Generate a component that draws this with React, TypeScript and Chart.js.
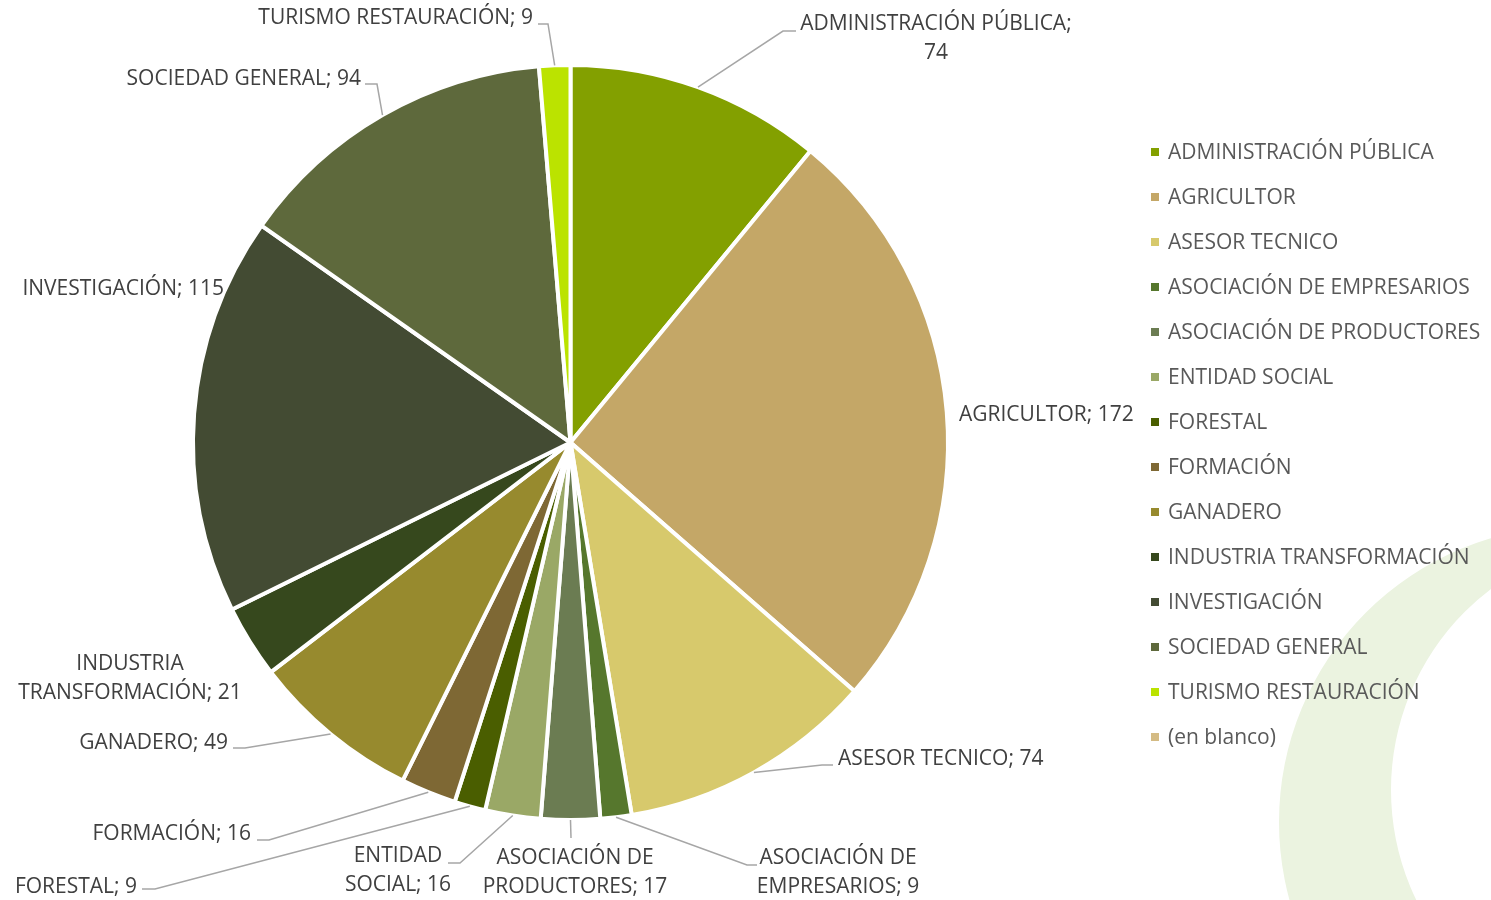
import React, { useEffect, useRef } from "react";
import { Chart, registerables } from "chart.js";

Chart.register(...registerables);

const categories = [
  "ADMINISTRACIÓN PÚBLICA",
  "AGRICULTOR",
  "ASESOR TECNICO",
  "ASOCIACIÓN DE EMPRESARIOS",
  "ASOCIACIÓN DE PRODUCTORES",
  "ENTIDAD SOCIAL",
  "FORESTAL",
  "FORMACIÓN",
  "GANADERO",
  "INDUSTRIA TRANSFORMACIÓN",
  "INVESTIGACIÓN",
  "SOCIEDAD GENERAL",
  "TURISMO RESTAURACIÓN",
  "(en blanco)",
];

const values = [74, 172, 74, 9, 17, 16, 9, 16, 49, 21, 115, 94, 9, 0];

const colors = [
  "#83A000",
  "#C4A767",
  "#D7C96C",
  "#56772D",
  "#6B7C52",
  "#9AA866",
  "#4A5E00",
  "#7E6834",
  "#978A2E",
  "#36481D",
  "#434B33",
  "#5E693C",
  "#BBE300",
  "#D4BB84",
];

// Label layout: text position (x, lines y), alignment, first-line word count (0 = single line),
// optional leader elbow point and horizontal end x.
type LabelLayout = {
  x: number;
  ys: number[];
  align: CanvasTextAlign;
  split: number;
  elbow?: [number, number];
  endX?: number;
};

const labelLayout: LabelLayout[] = [
  { x: 936, ys: [24, 53], align: "center", split: 2, elbow: [783, 31], endX: 796 },
  { x: 959, ys: [415], align: "left", split: 0 },
  { x: 838, ys: [759], align: "left", split: 0, elbow: [822, 765], endX: 833 },
  { x: 838, ys: [858, 887], align: "center", split: 2, elbow: [747, 865], endX: 757 },
  { x: 575, ys: [858, 887], align: "center", split: 2, elbow: [571, 838], endX: 571 },
  { x: 398, ys: [856, 885], align: "center", split: 1, elbow: [460, 863], endX: 448 },
  { x: 137, ys: [887], align: "right", split: 0, elbow: [155, 889], endX: 142 },
  { x: 251, ys: [834], align: "right", split: 0, elbow: [269, 840], endX: 257 },
  { x: 228, ys: [743], align: "right", split: 0, elbow: [245, 748], endX: 233 },
  { x: 130, ys: [664, 693], align: "center", split: 1 },
  { x: 224, ys: [289], align: "right", split: 0 },
  { x: 361, ys: [79], align: "right", split: 0, elbow: [377, 84], endX: 365 },
  { x: 533, ys: [18], align: "right", split: 0, elbow: [548, 24], endX: 538 },
];

const FONT = "21px 'Open Sans'";

const bgPlugin = {
  id: "bgRing",
  beforeDraw(chart: any) {
    const ctx = chart.ctx;
    ctx.save();
    ctx.fillStyle = "#ffffff";
    ctx.fillRect(0, 0, chart.width, chart.height);
    ctx.beginPath();
    ctx.arc(1575, 822, 296, 0, Math.PI * 2);
    ctx.arc(1643, 790, 252, 0, Math.PI * 2, true);
    ctx.fillStyle = "#EBF3E0";
    ctx.fill("evenodd");
    ctx.restore();
  },
};

const labelPlugin = {
  id: "leaderLabels",
  afterDatasetsDraw(chart: any) {
    const ctx = chart.ctx;
    const meta = chart.getDatasetMeta(0);
    ctx.save();
    ctx.font = FONT;
    ctx.textBaseline = "middle";
    meta.data.forEach((arc: any, i: number) => {
      const lay = labelLayout[i];
      if (!lay || !values[i]) return;
      const mid = (arc.startAngle + arc.endAngle) / 2;
      const sx = arc.x + Math.cos(mid) * arc.outerRadius;
      const sy = arc.y + Math.sin(mid) * arc.outerRadius;
      if (lay.elbow) {
        ctx.beginPath();
        ctx.strokeStyle = "#A6A6A6";
        ctx.lineWidth = 1.5;
        ctx.moveTo(sx, sy);
        ctx.lineTo(lay.elbow[0], lay.elbow[1]);
        ctx.lineTo(lay.endX, lay.elbow[1]);
        ctx.stroke();
      }
      const full = `${categories[i]}; ${values[i]}`;
      let lines = [full];
      if (lay.split > 0) {
        const words = full.split(" ");
        lines = [words.slice(0, lay.split).join(" "), words.slice(lay.split).join(" ")];
      }
      ctx.fillStyle = "#404040";
      ctx.textAlign = lay.align;
      lines.forEach((t, k) => ctx.fillText(t, lay.x, lay.ys[k]));
    });
    ctx.restore();
  },
};

const legendPlugin = {
  id: "customLegend",
  afterDraw(chart: any) {
    const ctx = chart.ctx;
    ctx.save();
    ctx.font = FONT;
    ctx.textBaseline = "middle";
    ctx.textAlign = "left";
    categories.forEach((c, i) => {
      const y = 152 + i * 45;
      ctx.fillStyle = colors[i];
      ctx.fillRect(1151, y - 4, 8, 8);
      ctx.fillStyle = "#595959";
      ctx.fillText(c, 1168, y + 1);
    });
    ctx.restore();
  },
};

export default function App() {
  const ref = useRef<HTMLCanvasElement>(null);
  useEffect(() => {
    if (!ref.current) return;
    const chart = new Chart(ref.current, {
      type: "pie",
      data: {
        labels: categories,
        datasets: [
          {
            data: values,
            backgroundColor: colors,
            borderColor: "#ffffff",
            borderWidth: 4,
            hoverOffset: 0,
            offset: 0,
          },
        ],
      },
      options: {
        responsive: false,
        animation: false,
        devicePixelRatio: 1,
        layout: { padding: { left: 191, right: 541, top: 63, bottom: 78 } },
        plugins: {
          legend: { display: false },
          tooltip: { enabled: false },
          title: { display: false },
        },
      },
      plugins: [bgPlugin, labelPlugin, legendPlugin],
    });
    return () => chart.destroy();
  }, []);
  return (
    <div style={{ position: "absolute", left: 0, top: 0, width: 1491, height: 900, background: "#fff" }}>
      <canvas ref={ref} width={1491} height={900} style={{ display: "block" }} />
    </div>
  );
}
